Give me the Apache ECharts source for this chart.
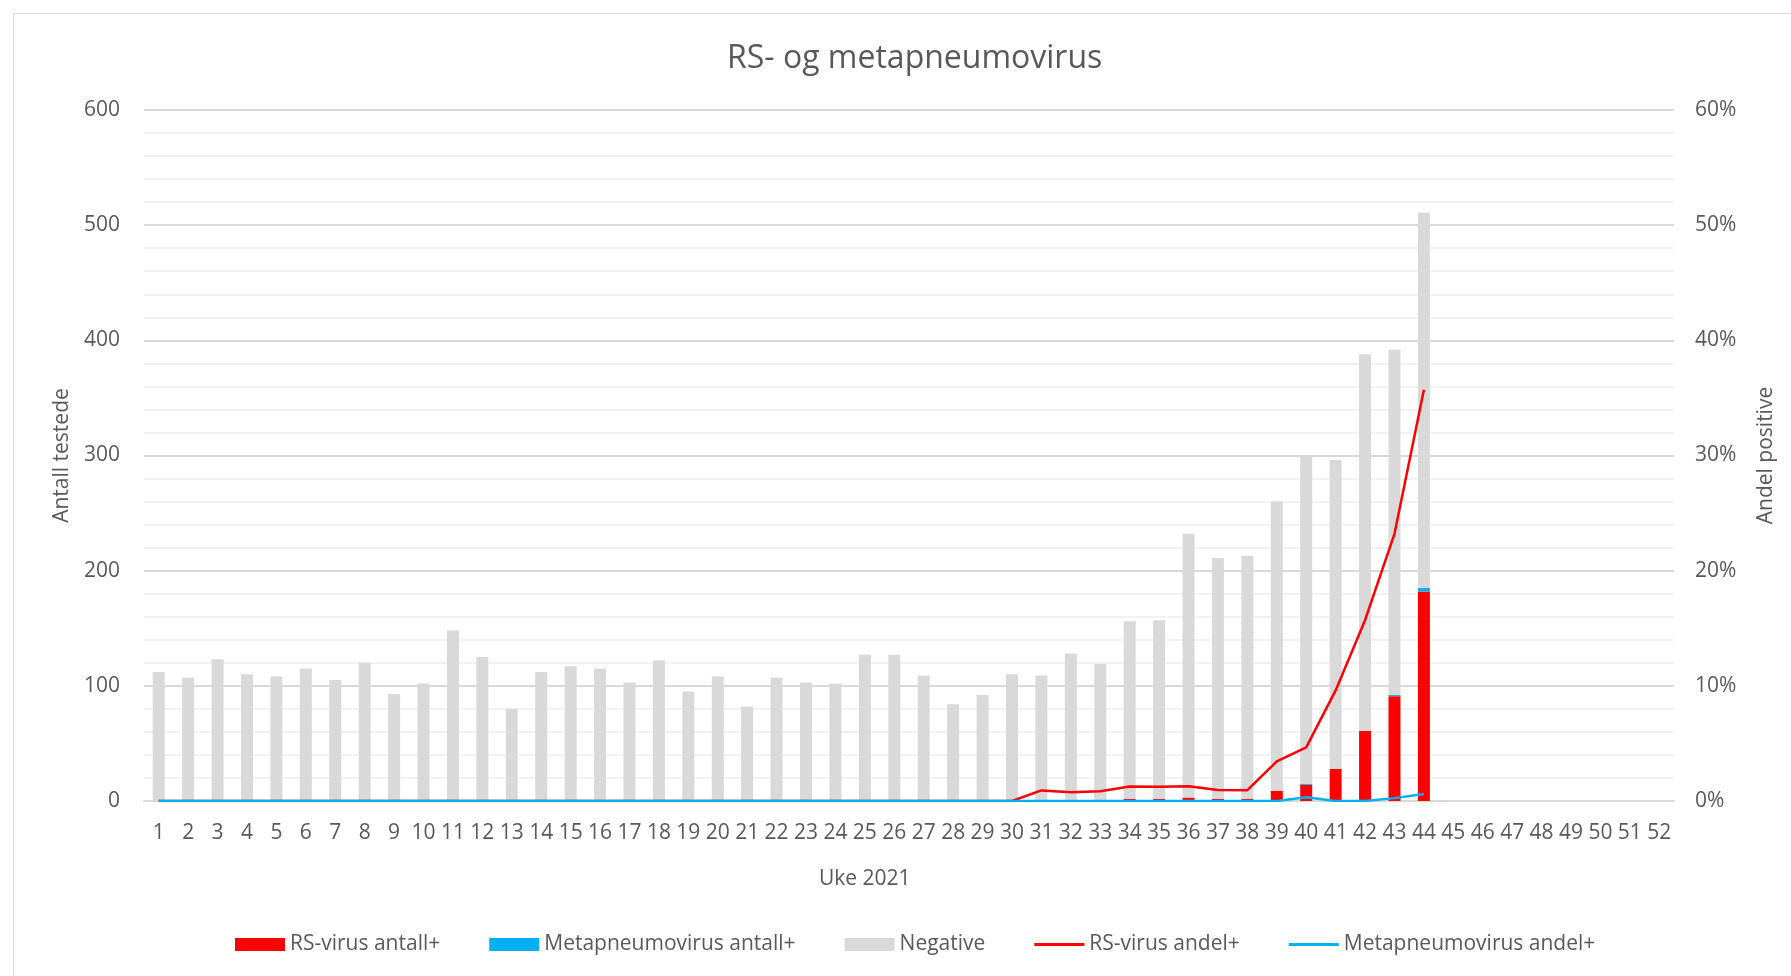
<!DOCTYPE html>
<html>
<head>
<meta charset="utf-8">
<script src="https://cdn.jsdelivr.net/npm/echarts@6/dist/echarts.min.js"></script>
<style>
html,body{margin:0;padding:0;background:#fff;}
#chart{width:1791px;height:976px;}
</style>
</head>
<body>
<div id="chart"></div>
<script>
// Weeks 1..52
const weeks = Array.from({length: 52}, (_, i) => String(i + 1));

// Counts (weeks 1..44; weeks 45..52 have no data)
const rsCount = [0,0,0,0,0,0,0,0,0,0, 0,0,0,0,0,0,0,0,0,0, 0,0,0,0,0,0,0,0,0,0, 1,1,1,2,2,3,2,2,9,14, 28,61,91,182];
const metaCount = [0,0,0,0,0,0,0,0,0,0, 0,0,0,0,0,0,0,0,0,0, 0,0,0,0,0,0,0,0,0,0, 0,0,0,0,0,0,0,0,0,1, 0,0,1,3];
const negative = [112,107,123,110,108,115,105,120,93,102, 148,125,80,112,117,115,103,122,95,108, 82,107,103,102,127,127,109,84,92,110, 108,127,118,154,155,229,209,211,251,285, 268,327,300,326];

// Share positive (%)
const rsShare = [0,0,0,0,0,0,0,0,0,0, 0,0,0,0,0,0,0,0,0,0, 0,0,0,0,0,0,0,0,0,0, 0.92,0.76,0.84,1.26,1.24,1.29,0.95,0.94,3.44,4.65, 9.6,15.7,23.2,35.7];
const metaShare = [0,0,0,0,0,0,0,0,0,0, 0,0,0,0,0,0,0,0,0,0, 0,0,0,0,0,0,0,0,0,0, 0,0,0,0,0,0,0,0,0,0.33, 0,0,0.25,0.6];

const leftTicks = {min: 0, max: 600, interval: 100};
const rightTicks = {min: 0, max: 60, interval: 10};

function pad(arr){ const a = arr.slice(); while (a.length < weeks.length) a.push(null); return a; }

const FONT = '"Open Sans", "Liberation Sans", sans-serif';
const TXT = '#595959';
const LINE_ICON = 'path://M0 0H50V3H0Z';

const chart = echarts.init(document.getElementById('chart'), null, {renderer: 'canvas'});
chart.setOption({
  animation: false,
  backgroundColor: '#ffffff',
  textStyle: {fontFamily: FONT},
  title: {
    text: 'RS- og metapneumovirus',
    left: 722,
    top: 38,
    textStyle: {fontFamily: FONT, fontSize: 32, fontWeight: 'normal', color: TXT}
  },
  graphic: [
    {type: 'rect', left: 11, top: 11, shape: {width: 1800, height: 1000}, style: {fill: null, stroke: '#d9d9d9', lineWidth: 1}, silent: true, z: -10},
    {type: 'text', left: 819, top: 869, style: {text: 'Uke 2021', fontFamily: FONT, fontSize: 21, fill: TXT}}
  ],
  legend: {
    left: 230,
    top: 929,
    itemWidth: 50,
    itemHeight: 13,
    itemGap: 49,
    textStyle: {fontFamily: FONT, fontSize: 21, color: TXT},
    data: [
      {name: 'RS-virus antall+', icon: 'rect'},
      {name: 'Metapneumovirus antall+', icon: 'rect'},
      {name: 'Negative', icon: 'rect'},
      {name: 'RS-virus andel+', icon: LINE_ICON},
      {name: 'Metapneumovirus andel+', icon: LINE_ICON}
    ]
  },
  grid: {left: 144, right: 117, top: 110, bottom: 175},
  xAxis: {
    type: 'category',
    data: weeks,
    axisLine: {lineStyle: {color: '#d9d9d9', width: 2}},
    axisTick: {show: false},
    axisLabel: {fontFamily: FONT, fontSize: 21, color: TXT, margin: 22, interval: 0}
  },
  yAxis: [
    {
      type: 'value',
      min: leftTicks.min, max: leftTicks.max, interval: leftTicks.interval,
      name: 'Antall testede',
      nameLocation: 'middle',
      nameGap: 71,
      nameTextStyle: {fontFamily: FONT, fontSize: 21, color: TXT},
      axisLine: {show: false},
      axisTick: {show: false},
      axisLabel: {fontFamily: FONT, fontSize: 21, color: TXT, margin: 24},
      splitLine: {lineStyle: {color: '#d9d9d9', width: 2}},
      minorTick: {show: false, splitNumber: 5},
      minorSplitLine: {show: true, lineStyle: {color: '#f2f2f2', width: 2}}
    },
    {
      type: 'value',
      min: rightTicks.min, max: rightTicks.max, interval: rightTicks.interval,
      name: 'Andel positive',
      nameLocation: 'middle',
      nameGap: 82,
      nameTextStyle: {fontFamily: FONT, fontSize: 21, color: TXT},
      axisLine: {show: false},
      axisTick: {show: false},
      axisLabel: {fontFamily: FONT, fontSize: 21, color: TXT, margin: 21, formatter: '{value}%'},
      splitLine: {show: false}
    }
  ],
  series: [
    {name: 'RS-virus antall+', type: 'bar', stack: 'tot', data: pad(rsCount), barWidth: 12, itemStyle: {color: '#ff0000'}},
    {name: 'Metapneumovirus antall+', type: 'bar', stack: 'tot', data: pad(metaCount), barWidth: 12, itemStyle: {color: '#00b0f0'}},
    {name: 'Negative', type: 'bar', stack: 'tot', data: pad(negative), barWidth: 12, itemStyle: {color: '#d9d9d9'}},
    {name: 'RS-virus andel+', type: 'line', yAxisIndex: 1, data: pad(rsShare), symbol: 'none', lineStyle: {color: '#ff0000', width: 2.5}, itemStyle: {color: '#ff0000'}, z: 5},
    {name: 'Metapneumovirus andel+', type: 'line', yAxisIndex: 1, data: pad(metaShare), symbol: 'none', lineStyle: {color: '#00b0f0', width: 2.5}, itemStyle: {color: '#00b0f0'}, z: 6}
  ]
});
</script>
</body>
</html>
